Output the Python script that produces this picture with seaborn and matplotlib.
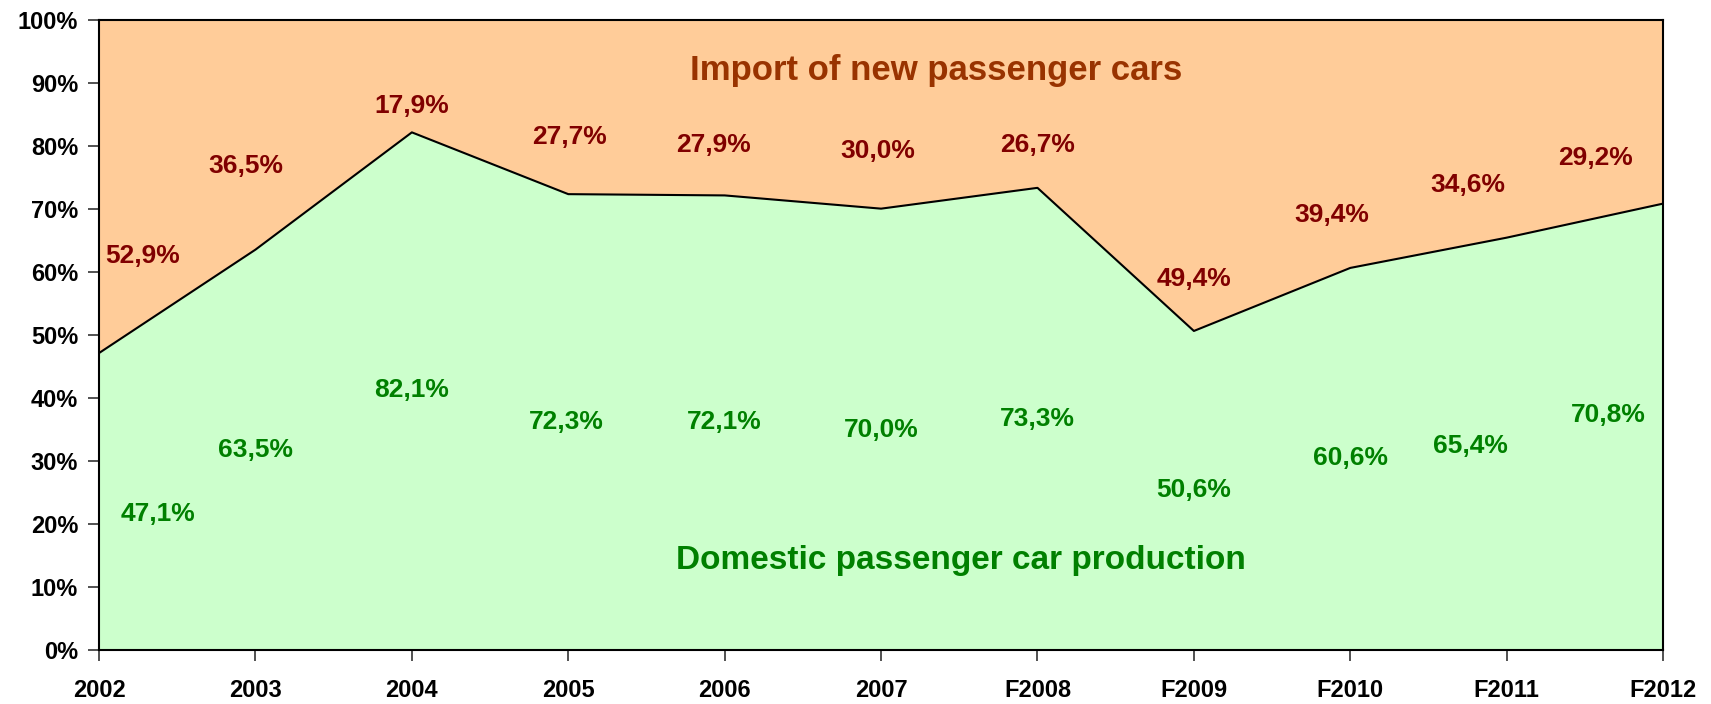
import numpy as np
import pandas as pd
import seaborn as sns
from matplotlib import pyplot as plt

years = ['2002', '2003', '2004', '2005', '2006', '2007',
         'F2008', 'F2009', 'F2010', 'F2011', 'F2012']
domestic = [47.1, 63.5, 82.1, 72.3, 72.1, 70.0, 73.3, 50.6, 60.6, 65.4, 70.8]
imports = [52.9, 36.5, 17.9, 27.7, 27.9, 30.0, 26.7, 49.4, 39.4, 34.6, 29.2]

# where the value labels sit (x index, y in %)
imp_pos = [(0.28, 62.5), (0.94, 76.8), (2.0, 86.3), (3.01, 81.3), (3.93, 80.1),
           (4.98, 79.1), (6.0, 80.1), (7.0, 58.8), (7.88, 69.0), (8.75, 73.7), (9.57, 78.0)]
dom_pos = [(0.38, 21.6), (1.0, 31.8), (2.0, 41.2), (2.99, 36.2), (4.0, 36.2),
           (5.0, 34.9), (6.0, 36.7), (7.0, 25.4), (8.0, 30.4), (8.77, 32.4), (9.65, 37.2)]

sns.set_style('white')
plt.rcParams['font.family'] = ['Liberation Sans', 'DejaVu Sans']
plt.rcParams['font.weight'] = 'bold'

df = pd.DataFrame({'year': years, 'domestic': domestic, 'imports': imports})
df['x'] = np.arange(len(df))

fig = plt.figure(figsize=(17.11, 7.04), dpi=100)
ax = fig.add_axes([0.0579, 0.0767, 0.9141, 0.8956])

ax.fill_between(df['x'], 0, df['domestic'], color='#CCFFCC', lw=0)
ax.fill_between(df['x'], df['domestic'], df['domestic'] + df['imports'], color='#FFCC99', lw=0)
sns.lineplot(data=df, x='x', y='domestic', color='black', lw=1.5, ax=ax)

for v, (x, y) in zip(imports, imp_pos):
    ax.text(x, y, f'{v:.1f}%'.replace('.', ','), color='#800000', fontsize=19,
            fontweight='bold', ha='center', va='center')
for v, (x, y) in zip(domestic, dom_pos):
    ax.text(x, y, f'{v:.1f}%'.replace('.', ','), color='#008000', fontsize=19,
            fontweight='bold', ha='center', va='center')

ax.text(5.35, 91.9, 'Import of new passenger cars', color='#993300', fontsize=25,
        fontweight='bold', ha='center', va='center')
ax.text(5.51, 14.2, 'Domestic passenger car production', color='#008000', fontsize=24,
        fontweight='bold', ha='center', va='center')

ax.set_xlim(0, len(years) - 1)
ax.set_ylim(0, 100)
ax.set_xticks(df['x'])
ax.set_xticklabels(years)
ax.set_yticks(range(0, 101, 10))
ax.set_yticklabels([f'{t}%' for t in range(0, 101, 10)])
ax.set_xlabel('')
ax.set_ylabel('')
ax.tick_params(axis='both', direction='out', length=8, width=1.2, color='#333333',
               labelsize=17, labelcolor='black', bottom=True, left=True)
ax.tick_params(axis='x', pad=13)
ax.tick_params(axis='y', pad=7)
for lab in ax.get_xticklabels() + ax.get_yticklabels():
    lab.set_fontweight('bold')
for s in ax.spines.values():
    s.set_color('black')
    s.set_linewidth(1.5)

fig.savefig('out.png', dpi=100)
